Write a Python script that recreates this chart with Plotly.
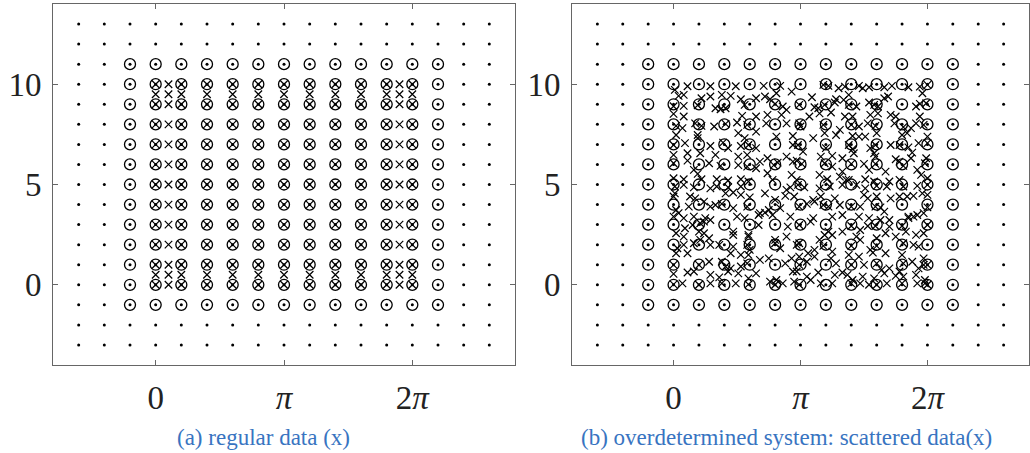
import plotly.graph_objects as go

# ---------------- data (x values are in units of pi) ----------------
grid_x_pi = [-0.6, -0.4, -0.2, 0.0, 0.2, 0.4, 0.6, 0.8, 1.0, 1.2, 1.4, 1.6, 1.8, 2.0, 2.2, 2.4, 2.6]
grid_y = [-3, -2, -1, 0, 1, 2, 3, 4, 5, 6, 7, 8, 9, 10, 11, 12, 13]

circ_x_pi = [-0.2, 0.0, 0.2, 0.4, 0.6, 0.8, 1.0, 1.2, 1.4, 1.6, 1.8, 2.0, 2.2]
circ_y = [-1, 0, 1, 2, 3, 4, 5, 6, 7, 8, 9, 10, 11]

reg_x_pi = [0.0, 0.1, 0.2, 0.4, 0.6, 0.8, 1.0, 1.2, 1.4, 1.6, 1.8, 1.9, 2.0]
reg_y = [0, 0.5, 1, 2, 3, 4, 5, 6, 7, 8, 9, 9.5, 10]

scat = [
    # upper left
    (0.01,9.72),(0.11,9.9),(0.29,9.9),(0.49,9.9),
    (0.04,9.42),(0.08,9.47),(0.22,9.3),(0.29,9.39),(0.38,9.47),(0.45,9.42),(0.53,9.25),
    (0.0,8.9),(0.08,8.92),(0.19,8.95),(0.33,8.8),(0.37,8.75),(0.41,8.8),(0.56,8.97),
    (0.0,8.52),(0.08,8.39),(0.54,8.42),
    (0.02,7.92),(0.07,7.81),(0.17,8.05),(0.22,7.92),(0.32,7.89),(0.41,8.02),(0.5,8.09),(0.58,7.97),
    (0.02,7.47),(0.19,7.47),(0.51,7.56),(0.56,7.31),
    (0.0,6.97),(0.09,7.06),(0.19,7.31),(0.29,6.92),(0.39,7.09),(0.43,6.81),(0.53,6.92),(0.59,6.97),
    (0.0,6.48),(0.11,6.56),(0.21,6.56),(0.33,6.48),(0.51,6.39),(0.58,6.48),
    (0.0,6.06),(0.11,6.19),(0.16,5.73),(0.28,6.06),(0.37,5.93),(0.51,5.97),(0.58,5.89),
    (0.0,5.31),(0.08,5.26),(0.19,5.53),(0.22,5.26),(0.34,5.26),(0.43,5.2),(0.53,5.26),(0.59,5.15),
    # upper middle
    (0.71,9.92),(0.84,9.92),(0.93,9.63),(1.18,9.97),(1.22,9.92),(1.30,9.8),(1.35,9.88),
    (0.65,9.3),(0.72,9.39),(0.76,9.25),(0.81,9.55),(1.09,9.35),(1.28,9.25),(1.34,9.22),
    (0.80,9.02),(0.86,8.89),(0.89,8.72),(0.99,8.97),(1.11,8.85),(1.14,8.8),(1.19,8.97),(1.27,9.09),
    (0.65,8.39),(0.74,8.47),(0.85,8.47),(1.07,8.39),(1.15,8.55),(1.24,8.59),(1.35,8.39),
    (0.73,8.05),(0.89,8.05),(0.99,8.05),(1.0,7.89),(1.18,7.97),(1.31,7.72),
    (0.65,7.64),(0.81,7.39),(0.94,7.42),(1.10,7.31),(1.19,7.56),(1.28,7.47),
    (0.65,6.81),(0.94,6.97),(0.98,6.97),(1.02,6.64),(1.2,6.81),
    (0.68,6.14),(0.74,6.31),(0.89,6.39),(0.97,6.19),(1.16,6.39),(1.25,6.43),(1.33,6.31),
    (0.65,5.81),(0.79,5.97),(0.82,6.09),(0.94,6.14),(1.01,6.03),(1.19,6.06),(1.25,5.89),(1.33,5.64),
    (0.74,5.56),(0.78,5.23),(0.93,5.48),(0.97,5.23),(1.15,5.48),(1.21,5.26),(1.31,5.39),(1.36,5.23),
    # upper right
    (1.46,9.92),(1.49,9.8),(1.54,9.85),(1.66,9.85),(1.72,9.92),(1.85,9.85),(1.94,9.88),(2.0,9.97),
    (1.38,9.47),(1.66,9.3),(1.69,9.39),(1.96,9.55),
    (1.38,8.97),(1.44,8.89),(1.54,9.09),(1.58,8.97),(1.61,8.89),(1.91,8.89),(1.94,9.02),(1.99,9.05),
    (1.41,8.39),(1.55,8.47),(1.61,8.55),(1.71,8.47),(1.75,8.39),(1.94,8.39),
    (1.40,7.97),(1.46,7.89),(1.53,8.05),(1.59,7.92),(1.74,8.05),(1.81,7.86),(1.87,7.81),(1.91,8.05),(1.97,7.97),
    (1.41,7.42),(1.46,7.39),(1.51,7.39),(1.60,7.56),(1.80,7.47),(1.84,7.56),(2.0,7.39),
    (1.38,6.97),(1.41,6.76),(1.55,6.81),(1.59,6.97),(1.71,6.97),(1.78,6.97),(1.85,6.85),(1.88,6.59),(1.93,7.06),(2.0,7.06),
    (1.42,6.56),(1.58,6.56),(1.59,6.39),(1.75,6.26),(1.87,6.31),(1.99,6.31),
    (1.40,6.03),(1.50,6.03),(1.54,5.73),(1.59,6.03),(1.67,5.64),(1.78,6.14),(1.81,5.93),(1.92,5.73),(1.98,6.06),
    (1.38,5.23),(1.51,5.26),(1.58,5.15),(1.70,5.15),(1.78,5.23),(1.95,5.48),(2.0,5.31),
    # lower left
    (0.01,4.9),(0.08,4.98),(0.16,4.86),(0.29,4.81),(0.34,4.9),(0.43,4.86),(0.53,4.9),
    (0.0,4.4),(0.01,4.56),(0.13,4.4),(0.17,4.31),(0.41,4.56),(0.47,4.6),(0.53,4.48),(0.60,4.36),
    (0.02,3.73),(0.12,3.9),(0.24,4.15),(0.29,3.9),(0.33,3.98),(0.38,4.03),(0.47,3.82),(0.58,3.9),
    (0.0,3.4),(0.04,3.57),(0.08,3.32),(0.16,3.40),(0.24,3.15),(0.25,3.32),(0.29,3.23),(0.50,3.40),(0.56,3.32),
    (0.09,2.82),(0.15,2.98),(0.21,3.07),(0.47,2.65),(0.59,2.49),
    (0.02,2.57),(0.08,2.40),(0.20,2.65),(0.24,2.57),(0.28,2.32),(0.47,2.48),(0.59,2.40),
    (0.03,1.82),(0.08,1.99),(0.16,2.07),(0.21,2.24),(0.29,1.99),(0.36,1.99),(0.47,1.90),(0.58,1.99),(0.60,1.74),
    (0.02,1.57),(0.11,1.57),(0.45,1.57),(0.53,1.49),(0.59,1.49),
    (0.0,0.99),(0.20,0.99),(0.28,1.15),(0.38,1.15),(0.41,0.91),(0.45,0.82),(0.53,0.91),(0.58,1.07),
    (0.0,0.54),(0.11,0.61),(0.16,0.66),(0.29,0.49),(0.36,0.37),(0.43,0.66),(0.51,0.57),(0.59,0.32),
    (0.0,0.02),(0.07,0.07),(0.20,0.0),(0.29,0.07),(0.38,0.07),(0.49,0.07),(0.59,0.02),
    # lower middle
    (0.89,4.73),(0.92,4.86),(0.98,4.98),(1.03,4.86),(1.15,4.81),(1.23,4.9),(1.33,4.98),
    (0.72,4.56),(0.80,4.23),(0.88,4.43),(0.95,4.4),(1.10,4.23),(1.16,4.4),(1.27,4.31),
    (0.68,3.57),(0.75,3.73),(0.84,3.82),(0.99,3.9),(1.05,4.03),(1.11,4.15),(1.18,3.98),(1.22,3.9),(1.31,3.98),(1.33,3.48),
    (0.67,3.48),(0.72,3.6),(0.78,3.48),(0.92,3.40),(1.10,3.32),(1.25,3.40),
    (0.67,2.98),(0.90,2.90),(0.99,2.98),(1.08,3.15),(1.25,2.48),(1.33,2.65),
    (0.80,2.24),(0.89,2.40),(1.15,2.24),(1.19,2.48),(1.22,2.65),
    (0.80,2.07),(0.84,1.82),(0.97,1.99),(0.99,2.07),(1.11,1.74),(1.18,1.94),(1.25,1.65),
    (0.68,1.24),(0.75,1.32),(0.93,1.32),(0.99,1.40),(1.06,1.57),(1.11,1.40),(1.24,1.32),
    (0.88,1.07),(0.94,0.66),(0.99,0.99),(1.05,1.15),(1.28,1.07),
    (0.65,0.57),(0.81,0.24),(0.97,0.66),(1.05,0.41),(1.14,0.61),(1.27,0.49),(1.33,0.61),
    (0.76,0.16),(0.80,0.0),(0.86,0.07),(0.95,0.16),(0.99,0.0),(1.08,0.24),(1.16,0.07),(1.25,0.07),
    # lower right
    (1.44,4.98),(1.51,4.81),(1.60,4.93),(1.68,4.9),(1.81,4.9),(1.92,4.93),(2.0,4.98),
    (1.50,4.48),(1.53,4.31),(1.60,4.40),(1.71,4.31),(1.78,4.40),(1.84,4.40),(1.89,4.43),(1.96,4.56),(2.0,4.48),
    (1.40,3.9),(1.47,3.9),(1.59,3.9),(1.63,3.86),(1.66,3.65),(1.85,3.40),(1.92,3.48),(1.97,3.57),(2.0,3.86),
    (1.46,3.40),(1.54,3.32),(1.63,3.23),(1.70,3.23),(1.85,3.32),(1.89,3.40),
    (1.40,2.93),(1.47,2.73),(1.53,2.93),(1.59,2.93),(1.70,2.90),(1.80,2.93),(1.83,2.65),(1.91,2.49),(1.97,2.57),(2.0,2.98),
    (1.44,2.40),(1.47,2.24),(1.60,2.32),(1.67,2.57),(1.75,2.40),
    (1.40,1.94),(1.55,1.74),(1.57,1.60),(1.60,1.94),(1.67,1.57),(1.81,2.07),(1.89,1.99),(1.93,1.90),
    (1.38,1.49),(1.46,1.40),(1.80,1.49),(1.88,1.15),(1.97,1.32),
    (1.40,0.99),(1.50,0.99),(1.60,1.07),(1.64,0.74),(1.70,0.82),(1.78,0.66),(1.81,1.07),(1.93,0.82),(1.97,0.99),(2.0,0.99),
    (1.37,0.49),(1.41,0.24),(1.49,0.41),(1.58,0.32),(1.66,0.57),(1.75,0.44),(1.81,0.41),(1.91,0.49),(1.98,0.24),
    (1.40,0.07),(1.47,0.07),(1.54,0.0),(1.60,0.0),(1.68,0.07),(1.80,0.07),(1.92,0.07),(1.98,0.07),(2.0,0.0),
]
scat_x_pi = [p[0] for p in scat]
scat_y = [p[1] for p in scat]

tick_vals = [0, 1, 2]
tick_text = ["0", "<i>π</i>", "2<i>π</i>"]
ytick_vals = [0, 5, 10]
captions = ["(a) regular data (x)", "(b) overdetermined system: scattered data(x)"]

# ---------------- figure ----------------
def mesh(xs, ys):
    X, Y = [], []
    for y in ys:
        for x in xs:
            X.append(x)
            Y.append(y)
    return X, Y

W, H = 1030, 453
fig = go.Figure()

dx, dy = mesh(grid_x_pi, grid_y)
cx, cy = mesh(circ_x_pi, circ_y)
rx, ry = mesh(reg_x_pi, reg_y)

for ax, (px, py) in zip(["", "2"], [(rx, ry), (scat_x_pi, scat_y)]):
    xa, ya = "x" + ax, "y" + ax
    fig.add_trace(go.Scatter(x=dx, y=dy, xaxis=xa, yaxis=ya, mode="markers",
                             marker=dict(symbol="circle", size=3, color="black"),
                             hoverinfo="skip", showlegend=False))
    fig.add_trace(go.Scatter(x=cx, y=cy, xaxis=xa, yaxis=ya, mode="markers",
                             marker=dict(symbol="circle-open", size=11, color="black",
                                         line=dict(width=1.3, color="black")),
                             hoverinfo="skip", showlegend=False))
    fig.add_trace(go.Scatter(x=px, y=py, xaxis=xa, yaxis=ya, mode="markers",
                             marker=dict(symbol="x-thin", size=7.5, color="black",
                                         line=dict(width=1.2, color="black")),
                             hoverinfo="skip", showlegend=False))

font_axis = dict(family="Liberation Serif, DejaVu Serif, serif", size=33, color="#222")
common_x = dict(range=[-0.8, 2.8], tickvals=tick_vals, ticktext=tick_text,
                showgrid=False, zeroline=False, showline=True, linecolor="#666",
                linewidth=1, mirror="ticks", ticks="inside", ticklen=5,
                tickcolor="#666", tickfont=font_axis, ticklabelstandoff=3)
common_y = dict(range=[-4, 14], tickvals=ytick_vals,
                showgrid=False, zeroline=False, showline=True, linecolor="#666",
                linewidth=1, mirror="ticks", ticks="inside", ticklen=5,
                tickcolor="#666", tickfont=font_axis, ticklabelstandoff=4)

ydom = [1 - 365 / H, 1 - 4 / H]
fig.update_layout(
    width=W, height=H,
    margin=dict(l=0, r=0, t=0, b=0),
    paper_bgcolor="white", plot_bgcolor="white",
    xaxis=dict(domain=[53 / W, 515 / W], anchor="y", **common_x),
    yaxis=dict(domain=ydom, anchor="x", **common_y),
    xaxis2=dict(domain=[572 / W, 1029 / W], anchor="y2", **common_x),
    yaxis2=dict(domain=ydom, anchor="x2", **common_y),
)

cap_font = dict(family="Liberation Serif, DejaVu Serif, serif", size=23, color="#3874c1")
for cxp, txt in zip([263, 786], captions):
    fig.add_annotation(x=cxp / W, y=1 - 437 / H, xref="paper", yref="paper",
                       text=txt, showarrow=False, xanchor="center", yanchor="middle",
                       font=cap_font)

fig.write_html("out.html")
